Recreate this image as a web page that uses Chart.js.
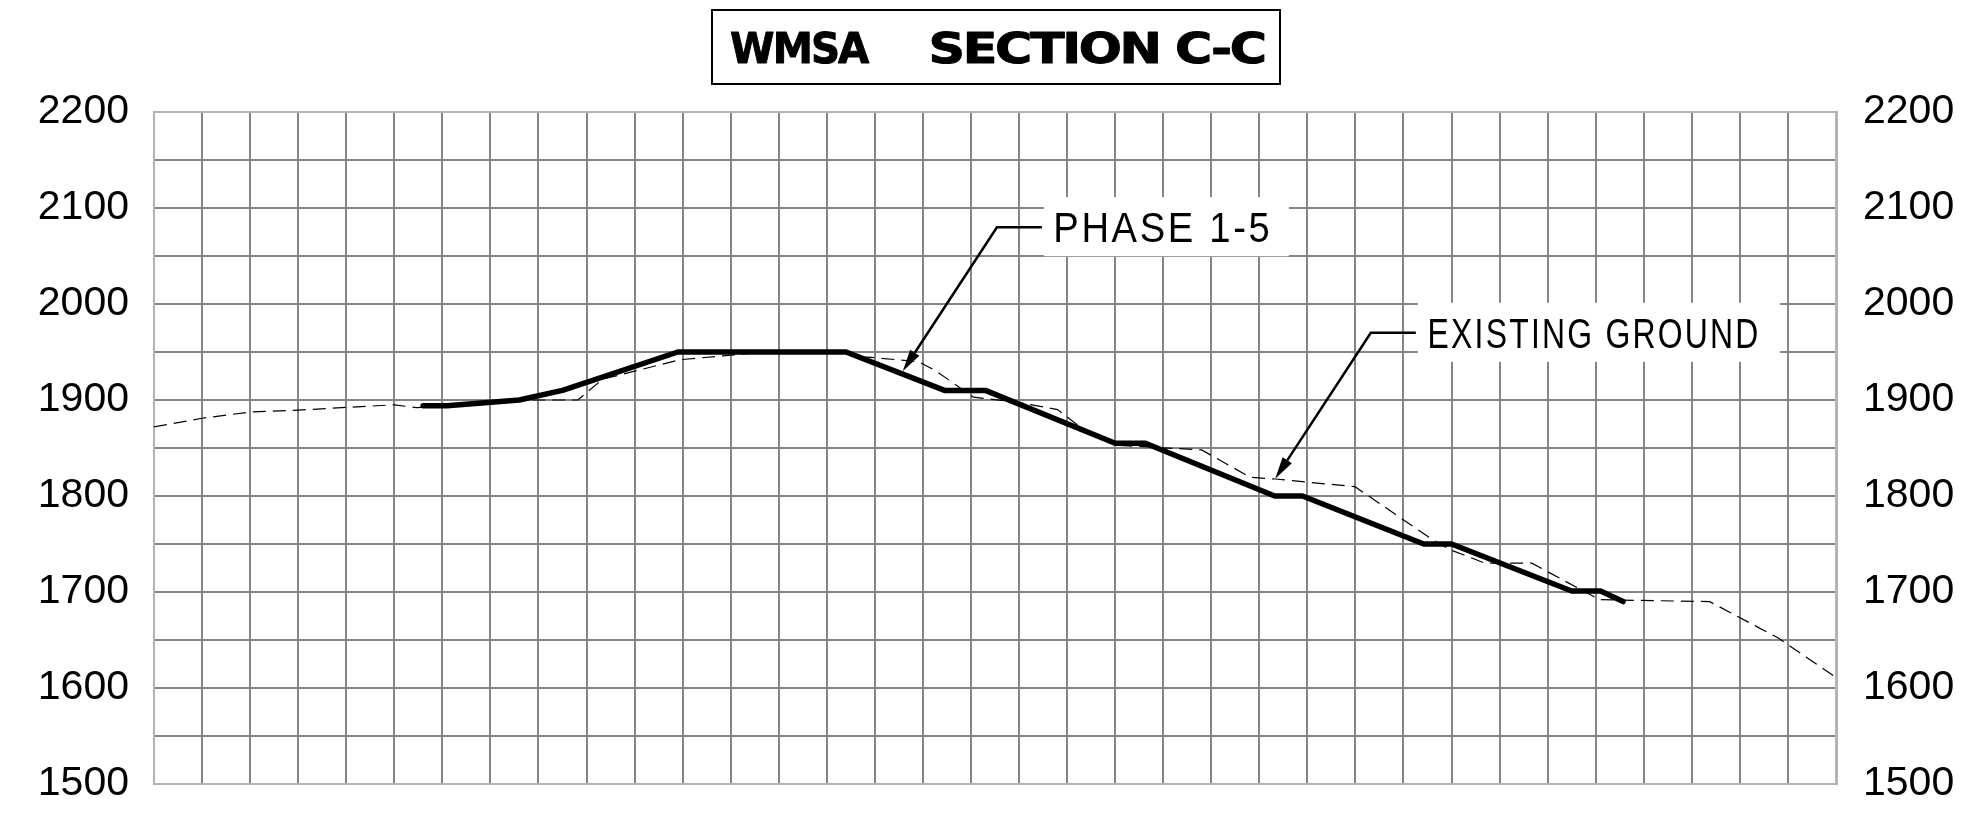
<!DOCTYPE html>
<html>
<head>
<meta charset="utf-8">
<title>WMSA Section C-C</title>
<script src="https://cdn.jsdelivr.net/npm/chart.js@4/dist/chart.umd.min.js"></script>
<style>
  html, body { margin: 0; padding: 0; background: #fff; }
  #wrap { width: 1964px; height: 817px; }
</style>
</head>
<body>
<div id="wrap"><canvas id="section" width="1964" height="817"></canvas></div>
<script>
// Station along the section line (ft) and elevation (ft)
const phaseStations   = [560, 610, 760, 850, 1090, 1440, 1645, 1730, 2000, 2063, 2332, 2390, 2642, 2700, 2950, 3010, 3057];
const phaseElevations = [1894, 1894, 1900, 1910, 1950, 1950, 1910, 1910, 1855, 1855, 1800, 1800, 1750, 1750, 1701, 1701, 1690];

const groundStations   = [0, 100, 200, 300, 500, 546, 787, 882, 933, 1095, 1207, 1250, 1440, 1478, 1590, 1625, 1705, 1793, 1880, 1932, 2000, 2180, 2281, 2333, 2499, 2662, 2697, 2770, 2867, 3008, 3237, 3380, 3500];
const groundElevations = [1872, 1881, 1887.5, 1889.5, 1895, 1892, 1900, 1900, 1921.6, 1942, 1947, 1949, 1949, 1945, 1940, 1931, 1903, 1898, 1890, 1870, 1853, 1848, 1819.5, 1817.7, 1809.7, 1754, 1744, 1730, 1730, 1692, 1690, 1652, 1611];

// Elevation labels shown on both sides
const elevationLabels = [1500, 1600, 1700, 1800, 1900, 2000, 2100, 2200];

const titleWords = ['WMSA', 'SECTION C-C'];

// Callouts: label, arrow tip and leader elbow in station/elevation units
const calloutLabels = ['PHASE 1-5', 'EXISTING GROUND'];
const calloutTips   = [[1558, 1930], [2333, 1818]];
const calloutElbows = [[1754, 2080], [2532, 1970]];

const toPoints = (xs, ys) => xs.map((x, i) => ({ x, y: ys[i] }));

const GRID = '#858585';
const FRAME = '#b4b4b4';
const CLEAR = 'rgba(0,0,0,0)';

// Draw text so its ink spans exactly [left, left + width]
function fitInk(ctx, text, left, baseline, width, strokeW) {
  const m = ctx.measureText(text);
  const ink = m.actualBoundingBoxLeft + m.actualBoundingBoxRight;
  const s = width / ink;
  ctx.save();
  ctx.translate(left + m.actualBoundingBoxLeft * s, baseline);
  ctx.scale(s, 1);
  ctx.fillText(text, 0, 0);
  if (strokeW) {
    ctx.lineWidth = strokeW;
    ctx.lineJoin = 'round';
    ctx.strokeStyle = ctx.fillStyle;
    ctx.strokeText(text, 0, 0);
  }
  ctx.restore();
}

const sectionDecor = {
  id: 'sectionDecor',
  afterDraw(chart) {
    const { ctx, scales: { x, y } } = chart;
    ctx.save();
    // title block
    ctx.strokeStyle = '#000';
    ctx.lineWidth = 2;
    ctx.strokeRect(712, 10, 568, 74);
    ctx.fillStyle = '#000';
    ctx.textBaseline = 'alphabetic';
    ctx.font = 'bold 43px "DejaVu Sans"';
    ctx.letterSpacing = '-2px';
    fitInk(ctx, titleWords[0], 731, 62.5, 139, 1);
    fitInk(ctx, titleWords[1], 932, 62.5, 332, 1);
    ctx.letterSpacing = '0px';

    // callouts
    const textWidths = [213, 327];
    const boxWidths = [245, 362];
    ctx.font = '43px "Liberation Sans Narrow", "Liberation Sans"';
    ctx.letterSpacing = '3px';
    calloutLabels.forEach((label, i) => {
      const tx = x.getPixelForValue(calloutTips[i][0]);
      const ty = y.getPixelForValue(calloutTips[i][1]);
      const ex = x.getPixelForValue(calloutElbows[i][0]);
      const ey = y.getPixelForValue(calloutElbows[i][1]);
      // white label plate
      ctx.fillStyle = '#fff';
      ctx.fillRect(ex + 47, ey - 30, boxWidths[i], 59);
      // leader
      const ang = Math.atan2(ty - ey, tx - ex);
      const headLen = 22, headHalf = 5.5;
      const bx = tx - Math.cos(ang) * headLen;
      const by = ty - Math.sin(ang) * headLen;
      ctx.strokeStyle = '#000';
      ctx.lineWidth = 2.5;
      ctx.lineJoin = 'miter';
      ctx.beginPath();
      ctx.moveTo(ex + 45, ey);
      ctx.lineTo(ex, ey);
      ctx.lineTo(bx, by);
      ctx.stroke();
      ctx.fillStyle = '#000';
      ctx.beginPath();
      ctx.moveTo(tx, ty);
      ctx.lineTo(bx + Math.sin(ang) * headHalf, by - Math.cos(ang) * headHalf);
      ctx.lineTo(bx - Math.sin(ang) * headHalf, by + Math.cos(ang) * headHalf);
      ctx.closePath();
      ctx.fill();
      // label text
      fitInk(ctx, label, ex + 59, ey + 15, textWidths[i]);
    });
    ctx.letterSpacing = '0px';
    ctx.restore();
  }
};

const edgeColor = (lo, hi) => (c) => {
  const v = c.tick && c.tick.value;
  return (v === lo || v === hi) ? FRAME : GRID;
};

const elevTick = (v) => (elevationLabels.includes(v) ? String(v) : '');

const labelFont = { family: '"Liberation Sans", Arial, sans-serif', size: 41 };

new Chart(document.getElementById('section'), {
  type: 'line',
  data: {
    datasets: [
      {
        label: 'PHASE 1-5',
        data: toPoints(phaseStations, phaseElevations),
        borderColor: '#000',
        borderWidth: 5.5,
        borderCapStyle: 'round',
        borderJoinStyle: 'round',
        pointRadius: 0,
        tension: 0,
        fill: false
      },
      {
        label: 'EXISTING GROUND',
        data: toPoints(groundStations, groundElevations),
        borderColor: '#000',
        borderWidth: 1.2,
        borderDash: [13, 7],
        pointRadius: 0,
        tension: 0,
        fill: false
      }
    ]
  },
  options: {
    responsive: false,
    devicePixelRatio: 1,
    animation: false,
    layout: { padding: { top: 112, left: 0, right: 0, bottom: 0 } },
    plugins: { legend: { display: false }, tooltip: { enabled: false }, title: { display: false } },
    scales: {
      x: {
        type: 'linear',
        min: 0,
        max: 3500,
        ticks: { stepSize: 100, display: false },
        grid: { color: edgeColor(0, 3500), lineWidth: 2, drawTicks: false },
        border: { color: FRAME, width: 2 },
        afterFit: (s) => { s.height = 33; }
      },
      y: {
        type: 'linear',
        position: 'left',
        min: 1500,
        max: 2200,
        ticks: { stepSize: 50, autoSkip: false, padding: 0, color: '#000', font: labelFont, callback: elevTick },
        grid: { color: edgeColor(1500, 2200), lineWidth: 2, drawTicks: true, tickLength: 25, tickColor: CLEAR },
        border: { color: FRAME, width: 2 },
        afterFit: (s) => { s.width = 154; }
      },
      y2: {
        type: 'linear',
        position: 'right',
        min: 1500,
        max: 2200,
        ticks: { stepSize: 50, autoSkip: false, padding: 0, color: '#000', font: labelFont, callback: elevTick },
        grid: { drawOnChartArea: false, drawTicks: true, tickLength: 27, tickColor: CLEAR },
        border: { color: FRAME, width: 3 },
        afterFit: (s) => { s.width = 128; }
      }
    }
  },
  plugins: [sectionDecor]
});
</script>
</body>
</html>
